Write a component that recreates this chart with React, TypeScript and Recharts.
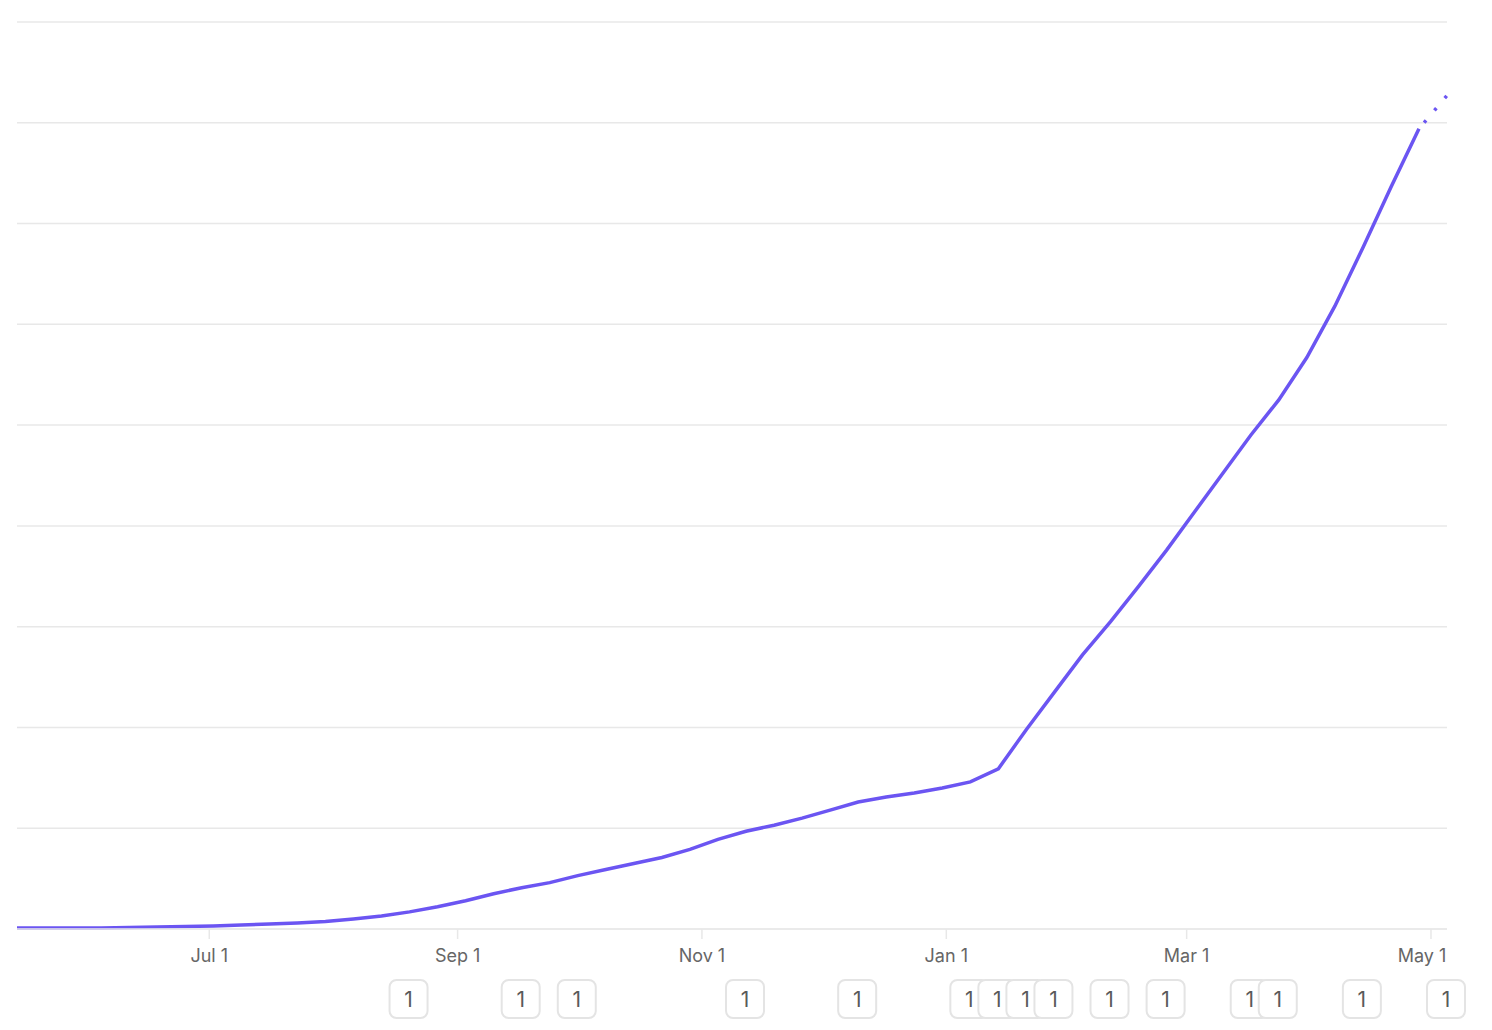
import { ComposedChart, Line, XAxis, YAxis, CartesianGrid } from 'recharts';

document.body.style.margin = '0';

// weekly points, May 2023 -> May 2024
const weeks = [
  '2023-05-14', '2023-05-21', '2023-05-28', '2023-06-04', '2023-06-11', '2023-06-18', '2023-06-25',
  '2023-07-02', '2023-07-09', '2023-07-16', '2023-07-23', '2023-07-30', '2023-08-06', '2023-08-13',
  '2023-08-20', '2023-08-27', '2023-09-03', '2023-09-10', '2023-09-17', '2023-09-24', '2023-10-01',
  '2023-10-08', '2023-10-15', '2023-10-22', '2023-10-29', '2023-11-05', '2023-11-12', '2023-11-19',
  '2023-11-26', '2023-12-03', '2023-12-10', '2023-12-17', '2023-12-24', '2023-12-31', '2024-01-07',
  '2024-01-14', '2024-01-21', '2024-01-28', '2024-02-04', '2024-02-11', '2024-02-18', '2024-02-25',
  '2024-03-03', '2024-03-10', '2024-03-17', '2024-03-24', '2024-03-31', '2024-04-07', '2024-04-14',
  '2024-04-21', '2024-04-28', '2024-05-05',
];

const values = [
  1, 1, 1, 1, 1.5, 2, 2.5, 3, 4, 5, 6, 7.5, 10, 13, 17, 22, 28, 35, 41, 46, 53, 59, 65, 71, 79, 89,
  97, 103, 110, 118, 126, 131, 135, 140, 146, 159, 198, 235, 272, 305, 340, 376, 414, 452, 490, 525,
  567, 618, 676, 736, 794, 827,
];

// the last week is still in progress, drawn dotted
const partialFrom = 50;

const monthTicks = ['2023-07-01', '2023-09-01', '2023-11-01', '2024-01-01', '2024-03-01', '2024-05-01'];
const monthNames = ['Jan', 'Feb', 'Mar', 'Apr', 'May', 'Jun', 'Jul', 'Aug', 'Sep', 'Oct', 'Nov', 'Dec'];

const yTicks = [0, 100, 200, 300, 400, 500, 600, 700, 800, 900];

const annotationWeeks = [
  '2023-08-20', '2023-09-17', '2023-10-01', '2023-11-12', '2023-12-10', '2024-01-07', '2024-01-14',
  '2024-01-21', '2024-01-28', '2024-02-11', '2024-02-25', '2024-03-17', '2024-03-24', '2024-04-14',
  '2024-05-05',
];
const annotationCounts = [1, 1, 1, 1, 1, 1, 1, 1, 1, 1, 1, 1, 1, 1, 1];

const t = (s: string) => Date.parse(s + 'T00:00:00Z');

const data = weeks.map((w, i) => ({
  t: t(w),
  solid: i <= partialFrom ? values[i] : null,
  partial: i >= partialFrom ? values[i] : null,
}));

const annCount: Record<number, number> = {};
annotationWeeks.forEach((w, i) => (annCount[t(w)] = annotationCounts[i]));

const W = 1492;
const H = 1030;
const margin = { top: 22, right: 45, bottom: 6, left: 17 };
const purple = '#6b55f2';
const gridColor = '#e8e8e8';
const font = 'Inter, "Noto Sans", sans-serif';

const domain = [t(weeks[0]), t(weeks[weeks.length - 1])];

function MonthTick(props: any) {
  const { x, y, payload } = props;
  const d = new Date(payload.value);
  const label = `${monthNames[d.getUTCMonth()]} ${d.getUTCDate()}`;
  const half = 25;
  const right = W - margin.right;
  const cx = Math.min(x, right - half);
  return (
    <text x={cx} y={y + 21} textAnchor="middle" fontFamily={font} fontSize={18} fill="#666">
      {label}
    </text>
  );
}

function BadgeTick(props: any) {
  const { x, y, payload } = props;
  const n = annCount[payload.value] ?? 1;
  return (
    <g>
      <rect x={x - 20} y={y - 2} width={38} height={38} rx={7} fill="#fff" stroke="#e4e4e4" strokeWidth={2} />
      <text x={x - 1} y={y + 25} textAnchor="middle" fontFamily={font} fontSize={21} fill="#5a5a5a">
        {n}
      </text>
    </g>
  );
}

export default function App() {
  return (
    <div style={{ width: W, height: H, background: '#fff' }}>
      <ComposedChart width={W} height={H} data={data} margin={margin}>
        <CartesianGrid vertical={false} stroke={gridColor} strokeWidth={1.5} horizontalValues={yTicks} />
        <XAxis
          dataKey="t"
          type="number"
          scale="time"
          domain={domain}
          ticks={monthTicks.map(t)}
          tick={<MonthTick />}
          tickSize={10}
          tickLine={{ stroke: gridColor, strokeWidth: 1.5 }}
          axisLine={{ stroke: gridColor, strokeWidth: 1.5 }}
          height={45}
          interval={0}
        />
        <XAxis
          xAxisId="ann"
          dataKey="t"
          type="number"
          scale="time"
          domain={domain}
          ticks={annotationWeeks.map(t)}
          tick={<BadgeTick />}
          tickLine={false}
          axisLine={false}
          height={50}
          interval={0}
        />
        <YAxis hide domain={[0, 900]} ticks={yTicks} />
        <Line
          type="linear"
          dataKey="solid"
          stroke={purple}
          strokeWidth={3.5}
          dot={false}
          activeDot={false}
          isAnimationActive={false}
        />
        <Line
          type="linear"
          dataKey="partial"
          stroke={purple}
          strokeWidth={3.5}
          strokeDasharray="3 13"
          strokeDashoffset={8}
          dot={false}
          activeDot={false}
          isAnimationActive={false}
        />
      </ComposedChart>
    </div>
  );
}
